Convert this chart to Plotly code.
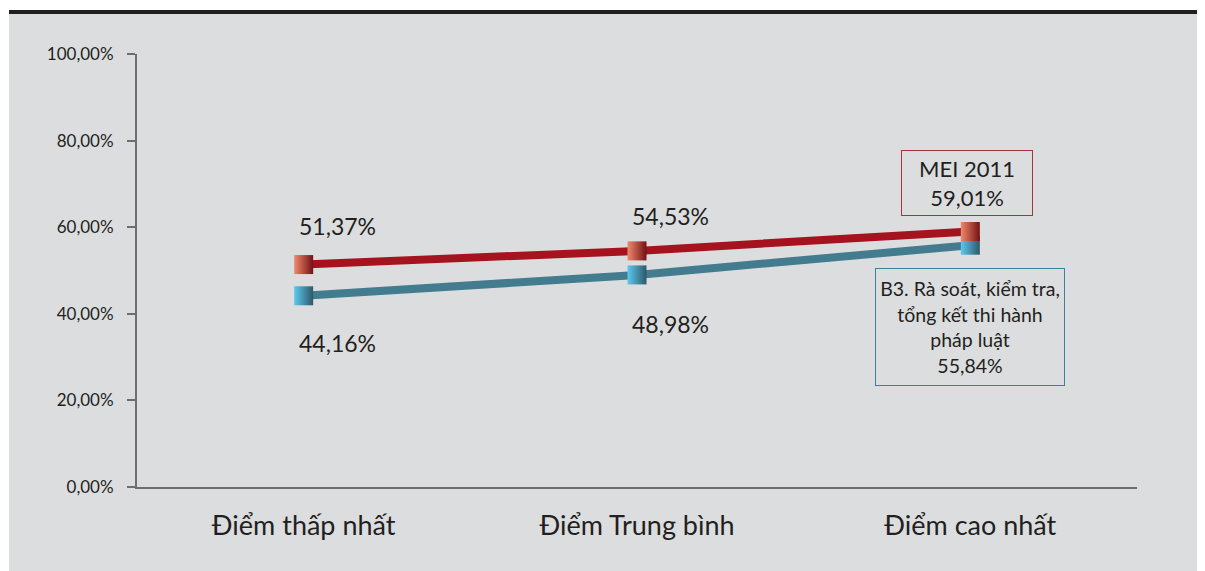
import plotly.graph_objects as go

categories = ["Điểm thấp nhất", "Điểm Trung bình", "Điểm cao nhất"]
mei_values = [51.37, 54.53, 59.01]
b3_values = [44.16, 48.98, 55.84]
tick_vals = [0, 20, 40, 60, 80, 100]
tick_text = ["0,00%", "20,00%", "40,00%", "60,00%", "80,00%", "100,00%"]

def vn(v):
    return f"{v:.2f}".replace(".", ",") + "%"

FONT = "Lato"
RED = "#A5131F"
TEAL = "#437B8F"
TXT = "#231F20"

fig = go.Figure()
fig.add_trace(go.Scatter(
    x=categories, y=b3_values, mode="lines+markers",
    line=dict(color=TEAL, width=8),
    marker=dict(symbol="square", size=19, color="#5CC9F0",
                gradient=dict(type="horizontal", color="#2E5868"),
                line=dict(width=0)),
    hoverinfo="skip", showlegend=False))
fig.add_trace(go.Scatter(
    x=categories, y=mei_values, mode="lines+markers",
    line=dict(color=RED, width=8),
    marker=dict(symbol="square", size=19, color="#EE8A6C",
                gradient=dict(type="horizontal", color="#761015"),
                line=dict(width=0)),
    hoverinfo="skip", showlegend=False))

annotations = []
shifts_top = [39, 35]
shifts_bot = [-47, -49]
for i in range(2):
    annotations.append(dict(x=categories[i], y=mei_values[i], text=vn(mei_values[i]),
                            xref="x", yref="y", showarrow=False, xanchor="left",
                            xshift=-7, yshift=shifts_top[i],
                            font=dict(family=FONT, size=23, color=TXT)))
    annotations.append(dict(x=categories[i], y=b3_values[i], text=vn(b3_values[i]),
                            xref="x", yref="y", showarrow=False, xanchor="left",
                            xshift=-7, yshift=shifts_bot[i],
                            font=dict(family=FONT, size=23, color=TXT)))

annotations.append(dict(x=categories[2], y=mei_values[2],
                        text="MEI 2011<br>" + vn(mei_values[2]),
                        xref="x", yref="y", showarrow=False,
                        xshift=-3, yshift=48, width=124, height=58,
                        bordercolor="#A3343C", borderwidth=1, borderpad=3,
                        font=dict(family=FONT, size=22, color=TXT)))
annotations.append(dict(x=categories[2], y=b3_values[2],
                        text="B3. Rà soát, kiểm tra,<br>tổng kết thi hành<br>pháp luật<br>" + vn(b3_values[2]),
                        xref="x", yref="y", showarrow=False,
                        xshift=0, yshift=-82, width=182, height=110,
                        bordercolor="#3E8196", borderwidth=1, borderpad=3,
                        font=dict(family=FONT, size=19.5, color=TXT)))

shapes = [
    dict(type="rect", xref="paper", yref="paper", x0=-0.128, x1=1.08, y0=-0.2, y1=1.0924,
         fillcolor="#DCDDDF", line=dict(width=0), layer="below"),
    dict(type="rect", xref="paper", yref="paper", x0=-0.128, x1=1.08, y0=1.0924, y1=1.1016,
         fillcolor="#231F20", line=dict(width=0), layer="below"),
]

fig.update_layout(
    width=1205, height=563,
    margin=dict(l=129, r=76, t=46, b=84),
    paper_bgcolor="white", plot_bgcolor="rgba(0,0,0,0)",
    font=dict(family=FONT, color=TXT),
    xaxis=dict(type="category", range=[-0.5, 2.5], showgrid=False, zeroline=False,
               showline=True, linecolor="#6D6E70", linewidth=2, ticks="",
               ticklabelstandoff=14,
               tickfont=dict(size=27, family=FONT, color=TXT), fixedrange=True),
    yaxis=dict(range=[0, 100], tickvals=tick_vals, ticktext=tick_text,
               showgrid=False, zeroline=False, showline=True, linecolor="#6D6E70",
               linewidth=2, ticks="outside", ticklen=8, tickwidth=2, tickcolor="#6D6E70",
               ticklabelstandoff=10,
               tickfont=dict(size=17, family=FONT, color=TXT), fixedrange=True),
    annotations=annotations, shapes=shapes,
)
fig.write_html("out.html")
